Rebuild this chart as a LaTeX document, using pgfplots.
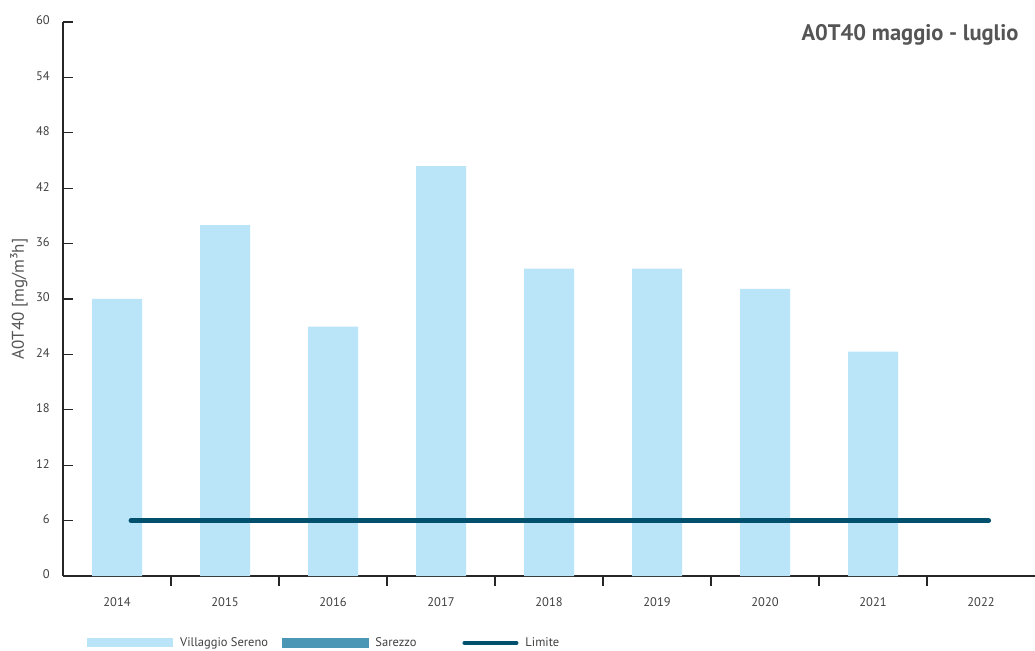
\documentclass[border=0pt]{standalone}
\usepackage{pgfplots}
\pgfplotsset{compat=1.18}
\usepackage{fontspec}
\setmainfont{PT Sans}
\definecolor{barblue}{HTML}{BAE5F9}
\definecolor{sarezzo}{HTML}{4A96B4}
\definecolor{limite}{HTML}{00506E}
\definecolor{txt}{HTML}{404040}
\definecolor{ttl}{HTML}{555555}
\begin{document}
\begin{tikzpicture}
\path[use as bounding box] (0,0) rectangle (1035bp,651bp);
\begin{axis}[
  at={(63bp,75bp)}, anchor=south west,
  scale only axis, width=972bp, height=554bp,
  xmin=-0.5, xmax=8.5, ymin=0, ymax=60,
  axis lines*=left,
  axis line style={line width=1.3bp, color=black!85},
  clip=false,
  ytick={0,6,...,60},
  xtick={0.5,1.5,...,7.5}, xticklabels={},
  extra x ticks={0,1,...,8},
  extra x tick labels={2014,2015,2016,2017,2018,2019,2020,2021,2022},
  extra x tick style={major tick length=0pt},
  major tick length=10bp,
  xtick align=outside, ytick align=inside,
  tick style={line width=1.3bp, color=black!85},
  /pgf/number format/assume math mode=true,
  ticklabel style={font=\fontsize{12.5bp}{14bp}\selectfont, color=txt, inner sep=0pt},
  yticklabel style={xshift=-13bp, yshift=1.5bp},
  xticklabel style={yshift=-21bp},
  ylabel={A0T40 [mg/m³h]},
  every axis y label/.style={at={(axis description cs:-0.0453,0.5)}, rotate=90, anchor=center, font=\fontsize{17bp}{20bp}\selectfont, color=ttl},
  title={A0T40 maggio - luglio},
  every axis title/.style={at={(axis description cs:0.9866,0.9765)}, anchor=east, font=\fontsize{22.5bp}{26bp}\selectfont\bfseries, color=ttl},
  legend columns=3,
  legend style={at={(axis description cs:0.0247,-0.1209)}, anchor=west, draw=none, fill=none, inner sep=0pt,
    nodes={inner sep=0pt}, font=\fontsize{12.5bp}{14bp}\selectfont, text=txt,
    /tikz/every odd column/.append style={column sep=7bp},
    /tikz/column 2/.style={column sep=14bp},
    /tikz/column 4/.style={column sep=46bp}},
]
\addplot[ybar, bar width=50bp, bar shift=0pt, fill=barblue, draw=none,
  legend image code/.code={\fill[barblue] (0bp,-4.5bp) rectangle (86bp,4.5bp);}]
  coordinates {(0,30.0) (1,38.0) (2,27.0) (3,44.4) (4,33.3) (5,33.3) (6,31.1) (7,24.3)};
\addlegendentry{Villaggio Sereno}
\addlegendimage{legend image code/.code={\fill[sarezzo] (0bp,-4.5bp) rectangle (86bp,4.5bp);}}
\addlegendentry{Sarezzo}
\addplot[line width=5bp, line cap=round, color=limite,
  legend image code/.code={\draw[limite, line width=4bp] (0bp,0bp) -- (52bp,0bp);}]
  coordinates {(0.13,6) (8.07,6)};
\addlegendentry{Limite}
\end{axis}
\end{tikzpicture}
\end{document}
